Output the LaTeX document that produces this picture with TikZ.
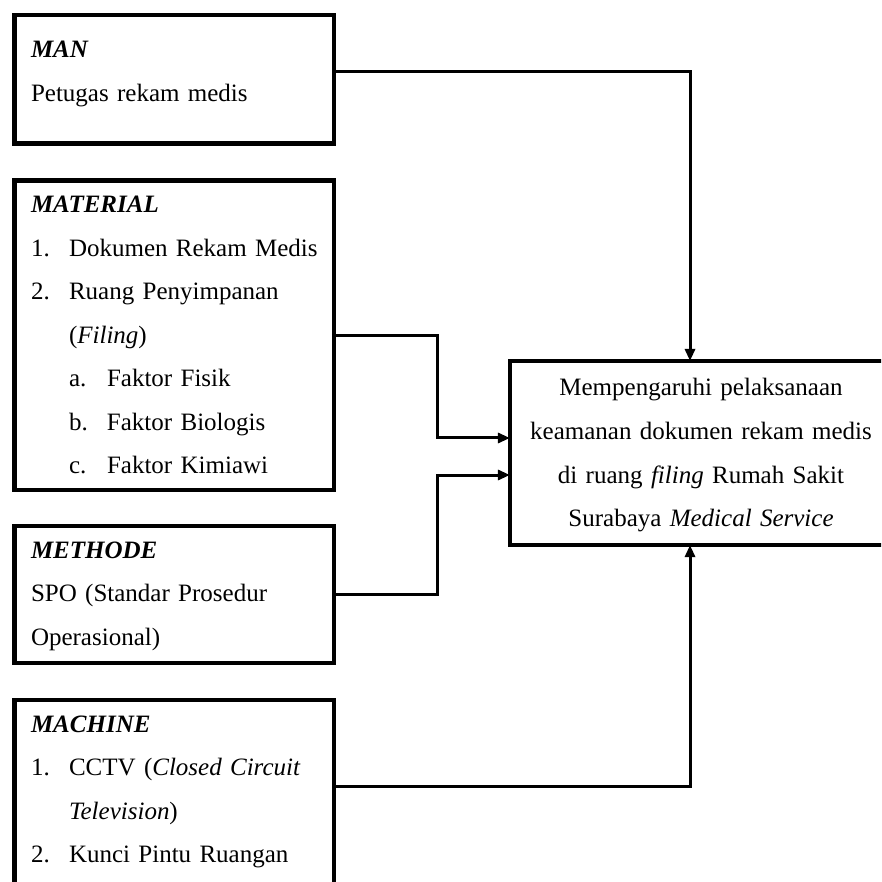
\documentclass[tikz,border=0pt]{standalone}
\usepackage{fontspec}
\setmainfont{Liberation Serif}
\usetikzlibrary{arrows.meta}

% hanging labels for the numbered lines
\newcommand{\itm}[1]{\makebox[18.24pt][l]{#1}}
\newcommand{\gap}{\hspace*{18.24pt}}

\tikzset{
  factor/.style={draw, line width=2.16pt, inner xsep=7.92pt, inner ysep=0pt, outer sep=0pt,
    text width=137.52pt, align=left, anchor=base west,
    font=\fontsize{12pt}{20.88pt}\selectfont},
  effect/.style={draw, line width=1.92pt, inner xsep=4.8pt, inner ysep=0pt, outer sep=0pt,
    text width=173.76pt, align=center, anchor=base west,
    font=\fontsize{12pt}{20.88pt}\selectfont},
  conn/.style={->, line width=1.44pt}
}

\begin{document}
\begin{tikzpicture}[>={Triangle[length=5.8pt,width=4.8pt]}, x=0.48pt, y=-0.48pt]
  \useasboundingbox (0,0) rectangle (881,882);
  \clip (0,0) rectangle (881,882);
  % the four causes
  \node[factor, text height=20.64pt, text depth=41.04pt] (man) at (14.5,58)
    {\textbf{\textit{MAN}}\\
     Petugas rekam medis};
  \node[factor, text height=15.6pt, text depth=132.96pt] (material) at (14.5,213)
    {\textbf{\textit{MATERIAL}}\\
     \mbox{\itm{1.}Dokumen Rekam Medis}\\
     \mbox{\itm{2.}Ruang Penyimpanan}\\
     \gap(\textit{Filing})\\
     \gap\itm{a.}Faktor Fisik\\
     \gap\itm{b.}Faktor Biologis\\
     \gap\itm{c.}Faktor Kimiawi};
  \node[factor, text height=15.36pt, text depth=50.4pt] (methode) at (14.5,558)
    {\textbf{\textit{METHODE}}\\
     SPO (Standar Prosedur\\
     Operasional)};
  \node[factor, text height=15.36pt, text depth=81.6pt] (machine) at (14.5,732)
    {\textbf{\textit{MACHINE}}\\
     \mbox{\itm{1.}CCTV (\textit{Closed Circuit}}\\
     \gap\textit{Television})\\
     \mbox{\itm{2.}Kunci Pintu Ruangan}};
  % the effect
  \node[effect, text height=16.8pt, text depth=71.52pt] (result) at (510,396)
    {Mempengaruhi pelaksanaan\\
     keamanan dokumen rekam medis\\
     di ruang \textit{filing} Rumah Sakit\\
     Surabaya \textit{Medical Service}};
  % connectors
  \draw[conn] (man.east |- 0,72) -| (690,0 |- result.north);
  \draw[conn] (material.east) -- (437,0 |- material.east) |- (result.west |- 0,438);
  \draw[conn] (methode.east) -- (437,0 |- methode.east) |- (result.west |- 0,475);
  \draw[conn] (machine.east |- 0,786) -| (690,0 |- result.south);
\end{tikzpicture}
\end{document}
